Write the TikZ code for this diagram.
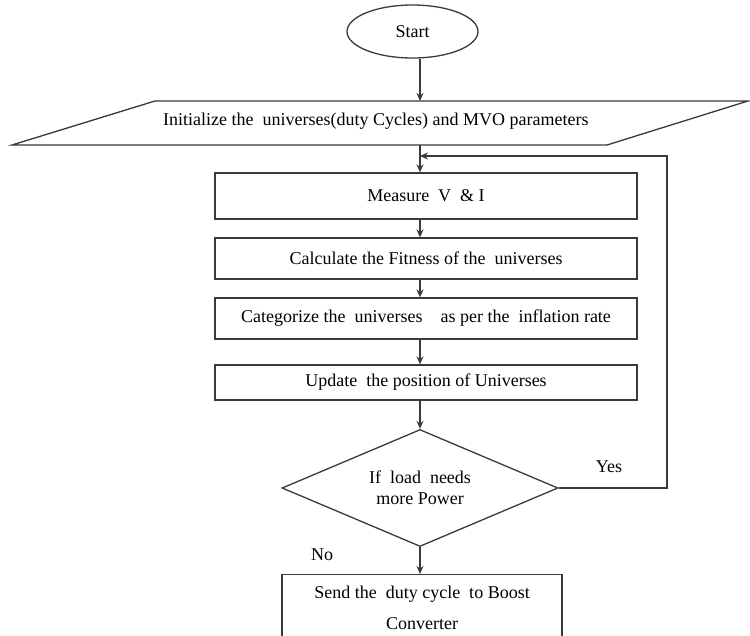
\documentclass[tikz,border=0pt]{standalone}
\usepackage{fontspec}
\setmainfont{Liberation Serif}
\usetikzlibrary{arrows.meta,shapes.geometric,calc}
\definecolor{ink}{HTML}{3A3A3A}
\tikzset{
  flow/.style={draw=ink, line width=1.3pt},
  txt/.style={font=\fontsize{18}{21}\selectfont},
  procbox/.style={flow, txt, rectangle, minimum width=422pt, inner sep=0pt},
  arr/.style={draw=ink, line width=1.3pt, -{Stealth[length=8pt,width=7pt]}},
  lbl/.style={txt, inner sep=0pt},
}
\begin{document}
\begin{tikzpicture}[x=1pt,y=-1pt]
\useasboundingbox (0,0) rectangle (750,635);
\clip (0,0) rectangle (750,635);
\fill[white] (0,0) rectangle (750,635);

% main column of arrows
\coordinate (col) at (420,0);

% terminator
\node[flow, txt, ellipse, minimum width=131pt, minimum height=53pt, inner sep=0pt] (start) at (412.5,31.5) {Start};

% input/output parallelogram
\draw[flow] (155,101) -- (748,101) -- (607,145) -- (12,145) -- cycle;
\coordinate (pin) at (420,101);
\coordinate (pout) at (420,145);
\node[lbl, anchor=west] (init) at (163,121) {Initialize the\ \ universes(duty Cycles) and MVO parameters};

% process steps
\node[procbox, minimum height=46pt] (meas) at (426,196) {Measure\ \ V\ \ \& I};
\node[procbox, minimum height=41pt] (calc) at (426,258.5) {Calculate the Fitness of the\ \ universes};
\node[procbox, minimum height=41pt] (cat) at (426,318.5) {Categorize the\ \ universes\ \ \ \ as per the\ \ inflation rate};
\node[procbox, minimum height=35pt] (upd) at (426,382.5) {Update\ \ the position of Universes};

% decision
\node[flow, diamond, aspect=2.36, minimum width=276pt, minimum height=117pt, inner sep=0pt, align=center,
      font=\fontsize{18}{21}\selectfont] (dec) at (420,488) {If\ \ load\ \ needs\\more Power};

% output step
\node[procbox, minimum width=280pt, minimum height=67pt, align=center,
      font=\fontsize{18}{31}\selectfont, anchor=north] (send) at (422,574) {Send the\ \ duty cycle\ \ to Boost\\Converter};

% connectors
\draw[arr] (start.south -| col) -- (pin);
\draw[arr] (pout) -- (meas.north -| col);
\draw[arr] (meas.south -| col) -- (calc.north -| col);
\draw[arr] (calc.south -| col) -- (cat.north -| col);
\draw[arr] (cat.south -| col) -- (upd.north -| col);
\draw[arr] (upd.south -| col) -- (dec.north);
\draw[arr] (dec.south) -- (send.north -| dec.south);

% feedback loop
\coordinate (jn) at (420,156);
\coordinate (loop) at (667,156);
\draw[arr] (dec.east) -| (loop) -- (jn);

% branch labels
\node[lbl] (yes) at (609,467) {Yes};
\node[lbl] (no) at (322,555) {No};
\end{tikzpicture}
\end{document}
